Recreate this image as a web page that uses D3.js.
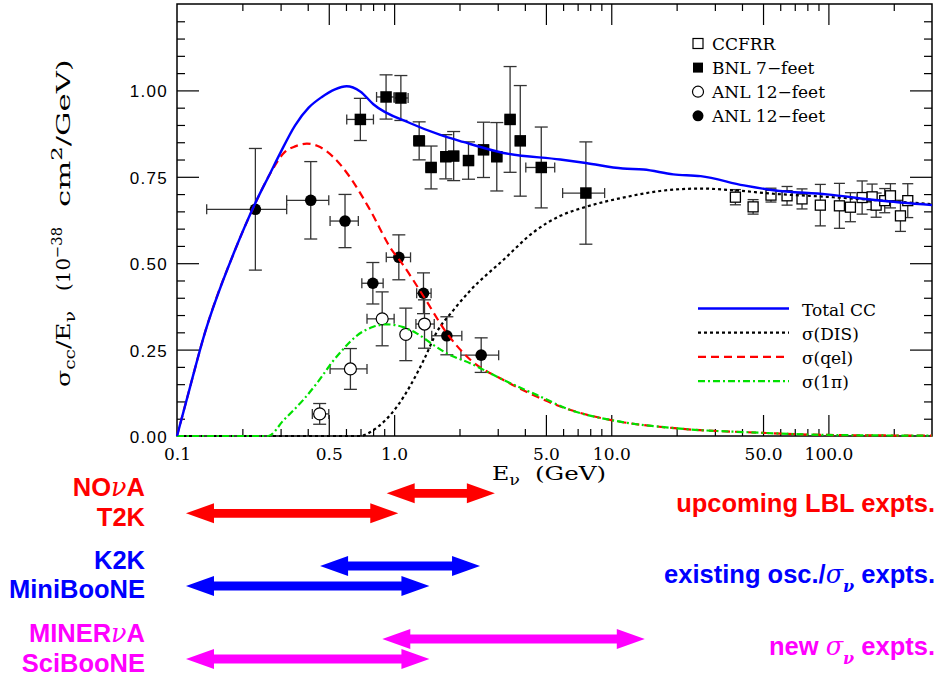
<!DOCTYPE html>
<html>
<head>
<meta charset="utf-8">
<script src="https://cdn.jsdelivr.net/npm/d3@7"></script>
<style>
  body { margin: 0; background: #fff; }
  svg { display: block; }
</style>
</head>
<body>
<div id="chart"></div>
<script>
// ---- data (E in GeV, sigma/E in 1e-38 cm^2/GeV) ----

// CCFRR (open squares)
var ccfrrE   = [37.3, 45.0, 54.4, 64.5, 75.6, 91.8, 112.4, 126.3, 143.0, 159.0, 165.9, 181.7, 193.1, 214.7, 232.0];
var ccfrrY   = [0.691, 0.663, 0.697, 0.695, 0.686, 0.668, 0.666, 0.662, 0.690, 0.692, 0.668, 0.681, 0.695, 0.637, 0.681];
var ccfrrErr = [0.022, 0.021, 0.020, 0.027, 0.029, 0.060, 0.065, 0.042, 0.048, 0.037, 0.035, 0.035, 0.035, 0.045, 0.049];

// BNL 7-feet (filled squares)
var bnlE   = [0.699, 0.918, 1.074, 1.304, 1.48, 1.73, 1.88, 2.20, 2.58, 2.97, 3.42, 3.81, 4.76, 7.64];
var bnlY   = [0.916, 0.981, 0.978, 0.854, 0.777, 0.808, 0.810, 0.797, 0.828, 0.808, 0.916, 0.854, 0.777, 0.703];
var bnlErr = [0.061, 0.064, 0.065, 0.055, 0.062, 0.064, 0.071, 0.054, 0.080, 0.099, 0.153, 0.160, 0.117, 0.148];
var bnlElo = [0.605, 0.83, 1.00, 1.23, 1.40, 1.64, 1.78, 2.09, 2.45, 2.82, 3.25, 3.62, 4.04, 5.97];
var bnlEhi = [0.803, 1.00, 1.16, 1.38, 1.56, 1.82, 1.98, 2.32, 2.72, 3.13, 3.60, 4.02, 5.49, 9.32];

// ANL 12-feet (open circles)
var anlOpenE   = [0.454, 0.629, 0.881, 1.132, 1.38];
var anlOpenY   = [0.064, 0.194, 0.339, 0.294, 0.324];
var anlOpenErr = [0.030, 0.059, 0.078, 0.076, 0.070];
var anlOpenElo = [0.42, 0.507, 0.75, 1.132, 1.26];
var anlOpenEhi = [0.50, 0.75, 1.00, 1.132, 1.53];

// ANL 12-feet (filled circles)
var anlE   = [0.2296, 0.413, 0.594, 0.798, 1.051, 1.365, 1.749, 2.517];
var anlY   = [0.656, 0.682, 0.622, 0.442, 0.517, 0.413, 0.290, 0.234];
var anlErr = [0.176, 0.112, 0.077, 0.060, 0.065, 0.059, 0.055, 0.050];
var anlElo = [0.137, 0.32, 0.507, 0.71, 0.92, 1.27, 1.49, 2.03];
var anlEhi = [0.32, 0.50, 0.684, 0.89, 1.19, 1.48, 2.05, 3.03];

// model curves
var totE = [0.1, 0.115, 0.132, 0.185, 0.229, 0.268, 0.298, 0.35, 0.404, 0.465, 0.534, 0.604, 0.698, 0.802, 1.188, 1.62, 2.08, 3.19, 5.82, 7.64, 11.3, 14.1, 19.3, 25.8, 40.8, 55.9, 98.5, 167.7, 300];
var totY = [0, 0.143, 0.282, 0.538, 0.673, 0.759, 0.817, 0.899, 0.950, 0.981, 1.003, 1.012, 0.997, 0.960, 0.905, 0.872, 0.851, 0.819, 0.800, 0.790, 0.774, 0.771, 0.757, 0.752, 0.725, 0.711, 0.699, 0.682, 0.668];

var disE = [0.1, 0.698, 0.802, 1.03, 1.37, 1.57, 1.88, 2.25, 3.19, 4.39, 5.82, 7.64, 11.8, 16.8, 25.8, 36.6, 55.9, 98.5, 167.7, 300];
var disY = [0, 0, 0.017, 0.085, 0.220, 0.300, 0.365, 0.422, 0.510, 0.590, 0.637, 0.663, 0.692, 0.709, 0.716, 0.711, 0.701, 0.692, 0.682, 0.671];

var qelE = [0.1, 0.115, 0.132, 0.185, 0.229, 0.268, 0.314, 0.35, 0.396, 0.456, 0.525, 0.626, 0.775, 0.977, 1.06, 1.37, 1.75, 2.25, 3.19, 4.53, 6.5, 10.0, 20.1, 48.4, 98.5, 300];
var qelY = [0, 0.143, 0.282, 0.538, 0.672, 0.758, 0.822, 0.838, 0.846, 0.836, 0.807, 0.749, 0.654, 0.538, 0.509, 0.403, 0.297, 0.220, 0.162, 0.114, 0.075, 0.046, 0.022, 0.0095, 0.003, 0.001];

var piE = [0.1, 0.263, 0.309, 0.382, 0.45, 0.52, 0.584, 0.672, 0.802, 0.925, 1.10, 1.27, 1.52, 1.75, 2.25, 3.19, 4.53, 6.5, 10.0, 20.1, 48.4, 98.5, 300];
var piY = [0, 0, 0.045, 0.105, 0.160, 0.215, 0.252, 0.290, 0.316, 0.323, 0.315, 0.297, 0.263, 0.239, 0.210, 0.162, 0.119, 0.075, 0.046, 0.022, 0.0095, 0.003, 0.001];

// axis ticks
var xTickVals = [0.1, 0.5, 1, 5, 10, 50, 100];
var xTickLabels = ['0.1', '0.5', '1.0', '5.0', '10.0', '50.0', '100.0'];
var yTickVals = [0, 0.25, 0.5, 0.75, 1.0];
var yTickLabels = ['0.00', '0.25', '0.50', '0.75', '1.00'];

// energy ranges of the experiments (GeV)
var exptNames = ['NOνA', 'T2K', 'K2K', 'MiniBooNE', 'MINERνA', 'SciBooNE'];
var exptLo = [0.924, 0.11, 0.456, 0.11, 0.882, 0.11];
var exptHi = [2.91, 1.045, 2.487, 1.454, 14.27, 1.454];
var exptGroup = [0, 0, 1, 1, 2, 2];
var groupLabels = ['upcoming LBL expts.', 'existing osc./', 'new '];
var groupColors = ['#ff0000', '#0000ff', '#ff00ff'];

// ---- drawing ----
var w = 939, h = 678;
var serif = '"DejaVu Serif", serif';
var sans = '"Liberation Sans", Arial, sans-serif';

var svg = d3.select('#chart').append('svg')
    .attr('width', w)
    .attr('height', h);

var x = d3.scaleLog().domain([0.1, 300]).range([177, 932]);
var y = d3.scaleLinear().domain([0, 1.25]).range([436, 4]);

// minor tick positions (1..9 per decade)
var xMinor = [];
[0.1, 1, 10, 100].forEach(function (dec) {
  for (var k = 2; k <= 9; k++) {
    var v = dec * k;
    if (v < 300 && xTickVals.indexOf(+v.toPrecision(3)) < 0) xMinor.push(v);
  }
});
var yMinor = d3.range(0.05, 1.25, 0.05).filter(function (v) {
  return Math.abs(v / 0.25 - Math.round(v / 0.25)) > 0.01;
});
var yMajor = [0.25, 0.5, 0.75, 1.0];
var xMajor = [0.5, 1, 5, 10, 50, 100];

function tickAxis(gen, pos, vals, len) {
  var g = svg.append('g')
      .attr('transform', pos)
      .call(gen.tickValues(vals).tickSize(-len).tickFormat(''));
  g.select('.domain').remove();
  g.selectAll('line').attr('stroke', '#000').attr('stroke-width', 1.2);
  return g;
}
tickAxis(d3.axisBottom(x), 'translate(0,436)', xMajor, 21);
tickAxis(d3.axisBottom(x), 'translate(0,436)', xMinor, 7);
tickAxis(d3.axisTop(x), 'translate(0,4)', xMajor, 21);
tickAxis(d3.axisTop(x), 'translate(0,4)', xMinor, 7);
tickAxis(d3.axisLeft(y), 'translate(177,0)', yMajor, 22);
tickAxis(d3.axisLeft(y), 'translate(177,0)', yMinor, 8);
tickAxis(d3.axisRight(y), 'translate(932,0)', yMajor, 22);
tickAxis(d3.axisRight(y), 'translate(932,0)', yMinor, 8);

// tick labels
var xl = svg.append('g')
    .attr('transform', 'translate(0,436)')
    .call(d3.axisBottom(x).tickValues(xTickVals).tickSize(0)
      .tickFormat(function (d, i) { return xTickLabels[i]; }));
xl.select('.domain').remove();
xl.selectAll('text')
    .attr('y', 24).attr('dy', 0)
    .attr('font-family', serif).attr('font-size', 17).attr('fill', '#000');

var yl = svg.append('g')
    .attr('transform', 'translate(177,0)')
    .call(d3.axisLeft(y).tickValues(yTickVals).tickSize(0)
      .tickFormat(function (d, i) { return yTickLabels[i]; }));
yl.select('.domain').remove();
yl.selectAll('text')
    .attr('x', -9).attr('dy', '0.38em')
    .attr('font-family', sans).attr('font-size', 17)
    .attr('letter-spacing', 1.3).attr('fill', '#000');

// frame
svg.append('rect')
    .attr('x', 177).attr('y', 4)
    .attr('width', 932 - 177).attr('height', 436 - 4)
    .attr('fill', 'none').attr('stroke', '#000').attr('stroke-width', 1.5);

// axis titles: the original font is wider than DejaVu, so each word
// group is stretched along its baseline to the width it has in the figure
function titlePiece(base, len, size, parts) {
  var t = svg.append('text')
      .attr('font-family', serif).attr('font-size', size);
  parts.forEach(function (p) {
    var s = t.append('tspan').text(p[0]);
    if (p[1]) s.attr('dy', p[1]);
    if (p[2]) s.attr('font-size', p[2]);
  });
  var natural = t.node().getComputedTextLength();
  t.attr('transform', base + ' scale(' + (len / natural) + ',1)');
}
titlePiece('translate(70,387) rotate(-90)', 76, 19,
  [['σ'], ['cc', 5, 14], ['/E', -5], ['ν', 5, 14]]);
titlePiece('translate(70,291) rotate(-90)', 64, 19,
  [['(10'], ['−38', -8, 14]]);
titlePiece('translate(70,207) rotate(-90)', 148, 19,
  [['cm'], ['2', -8, 14], ['/GeV)', 8]]);
titlePiece('translate(492,480)', 28, 19,
  [['E'], ['ν', 5, 14]]);
titlePiece('translate(535,480)', 71, 19,
  [['(GeV)']]);

// error bars
var errG = svg.append('g').attr('stroke', '#333').attr('stroke-width', 1.3).attr('fill', 'none');
function errorBars(E, Y, dY, Elo, Ehi, cap) {
  E.forEach(function (e, i) {
    var cx = x(e), y0 = y(Y[i] - dY[i]), y1 = y(Y[i] + dY[i]);
    errG.append('line').attr('x1', cx).attr('x2', cx).attr('y1', y0).attr('y2', y1);
    errG.append('line').attr('x1', cx - cap).attr('x2', cx + cap).attr('y1', y0).attr('y2', y0);
    errG.append('line').attr('x1', cx - cap).attr('x2', cx + cap).attr('y1', y1).attr('y2', y1);
    if (Elo && Elo[i] !== Ehi[i]) {
      var cy = y(Y[i]), xa = x(Elo[i]), xb = x(Ehi[i]);
      errG.append('line').attr('x1', xa).attr('x2', xb).attr('y1', cy).attr('y2', cy);
      errG.append('line').attr('x1', xa).attr('x2', xa).attr('y1', cy - 5).attr('y2', cy + 5);
      errG.append('line').attr('x1', xb).attr('x2', xb).attr('y1', cy - 5).attr('y2', cy + 5);
    }
  });
}
errorBars(ccfrrE, ccfrrY, ccfrrErr, null, null, 5.5);
errorBars(bnlE, bnlY, bnlErr, bnlElo, bnlEhi, 6.5);
errorBars(anlOpenE, anlOpenY, anlOpenErr, anlOpenElo, anlOpenEhi, 6.5);
errorBars(anlE, anlY, anlErr, anlElo, anlEhi, 6.5);

// markers
function squares(E, Y, size, filled) {
  svg.append('g').selectAll('rect').data(E).enter().append('rect')
      .attr('x', function (d) { return x(d) - size / 2; })
      .attr('y', function (d, i) { return y(Y[i]) - size / 2; })
      .attr('width', size).attr('height', size)
      .attr('fill', filled ? '#000' : '#fff')
      .attr('stroke', '#000').attr('stroke-width', filled ? 0 : 1.3);
}
function circles(E, Y, r, filled) {
  svg.append('g').selectAll('circle').data(E).enter().append('circle')
      .attr('cx', function (d) { return x(d); })
      .attr('cy', function (d, i) { return y(Y[i]); })
      .attr('r', r)
      .attr('fill', filled ? '#000' : '#fff')
      .attr('stroke', '#000').attr('stroke-width', filled ? 0 : 1.2);
}
squares(ccfrrE, ccfrrY, 10, false);
squares(bnlE, bnlY, 11.5, true);
circles(anlOpenE, anlOpenY, 6, false);
circles(anlE, anlY, 5.8, true);

// curves
var line = d3.line()
    .x(function (d) { return x(d[0]); })
    .y(function (d) { return y(d[1]); })
    .curve(d3.curveMonotoneX);
function curve(E, Y, color, width, dash) {
  svg.append('path')
      .datum(d3.zip(E, Y))
      .attr('d', line)
      .attr('fill', 'none')
      .attr('stroke', color)
      .attr('stroke-width', width)
      .attr('stroke-dasharray', dash);
}
var styles = [
  { name: 'Total CC', color: '#0000ff', width: 2.4, dash: null },
  { name: 'σ(DIS)', color: '#000', width: 2.2, dash: '3,3' },
  { name: 'σ(qel)', color: '#ff0000', width: 2.2, dash: '8,5' },
  { name: 'σ(1π)', color: '#00e000', width: 2.2, dash: '7,3,2,3' }
];
curve(disE, disY, styles[1].color, styles[1].width, styles[1].dash);
curve(qelE, qelY, styles[2].color, styles[2].width, styles[2].dash);
curve(piE, piY, styles[3].color, styles[3].width, styles[3].dash);
curve(totE, totY, styles[0].color, styles[0].width, styles[0].dash);

// legend: curves
styles.forEach(function (s, i) {
  var ly = 308.5 + i * 24.2;
  svg.append('line')
      .attr('x1', 698).attr('x2', 789).attr('y1', ly).attr('y2', ly)
      .attr('stroke', s.color).attr('stroke-width', s.width)
      .attr('stroke-dasharray', s.dash);
  svg.append('text')
      .attr('x', 802).attr('y', ly + 7)
      .attr('font-family', serif).attr('font-size', 17)
      .text(s.name);
});

// legend: data sets
var dataLegend = ['CCFRR', 'BNL 7−feet', 'ANL 12−feet', 'ANL 12−feet'];
dataLegend.forEach(function (name, i) {
  var ly = 43.5 + i * 24.1;
  if (i < 2) {
    svg.append('rect')
        .attr('x', 698 - 5).attr('y', ly - 5).attr('width', 10).attr('height', 10)
        .attr('fill', i === 1 ? '#000' : '#fff')
        .attr('stroke', '#000').attr('stroke-width', i === 1 ? 0 : 1.2);
  } else {
    svg.append('circle')
        .attr('cx', 698).attr('cy', ly).attr('r', 5.5)
        .attr('fill', i === 3 ? '#000' : '#fff')
        .attr('stroke', '#000').attr('stroke-width', i === 3 ? 0 : 1.2);
  }
  svg.append('text')
      .attr('x', 712).attr('y', ly + 6.5)
      .attr('font-family', serif).attr('font-size', 17)
      .text(name);
});

// experiment energy ranges as double arrows
var rowY = [493.3, 513.3, 566, 586, 639, 659];
var labelY = [496, 525.7, 569.3, 598.3, 641.7, 671.7];
function arrowPath(x0, x1, yc) {
  var hl = 28, hh = 10, sh = 4.4;
  return 'M' + x0 + ',' + yc +
    'L' + (x0 + hl) + ',' + (yc - hh) + 'L' + (x0 + hl) + ',' + (yc - sh) +
    'L' + (x1 - hl) + ',' + (yc - sh) + 'L' + (x1 - hl) + ',' + (yc - hh) +
    'L' + x1 + ',' + yc +
    'L' + (x1 - hl) + ',' + (yc + hh) + 'L' + (x1 - hl) + ',' + (yc + sh) +
    'L' + (x0 + hl) + ',' + (yc + sh) + 'L' + (x0 + hl) + ',' + (yc + hh) + 'Z';
}
exptNames.forEach(function (name, i) {
  var col = groupColors[exptGroup[i]];
  svg.append('path')
      .attr('d', arrowPath(x(exptLo[i]), x(exptHi[i]), rowY[i]))
      .attr('fill', col);
  var t = svg.append('text')
      .attr('x', 145).attr('y', labelY[i])
      .attr('text-anchor', 'end')
      .attr('font-family', sans).attr('font-weight', 'bold').attr('font-size', 25.5)
      .attr('fill', col);
  var parts = name.split('ν');
  t.append('tspan').text(parts[0]);
  if (parts.length > 1) {
    t.append('tspan')
        .attr('font-family', serif).attr('font-style', 'italic').attr('font-weight', 'normal')
        .text('ν');
    t.append('tspan').text(parts[1]);
  }
});

// group labels on the right
var groupY = [511.7, 583.3, 655];
groupLabels.forEach(function (lab, g) {
  var t = svg.append('text')
      .attr('x', 935).attr('y', groupY[g])
      .attr('text-anchor', 'end')
      .attr('font-family', sans).attr('font-weight', 'bold').attr('font-size', 25.5)
      .attr('fill', groupColors[g]);
  t.append('tspan').text(lab);
  if (g > 0) {
    t.append('tspan')
        .attr('font-family', serif).attr('font-style', 'italic').attr('font-weight', 'normal')
        .text('σ');
    t.append('tspan').attr('dy', 9).attr('font-size', 16)
        .attr('font-family', serif).attr('font-style', 'italic').text('ν');
    t.append('tspan').attr('dy', -9).text(' expts.');
  }
});
</script>
</body>
</html>
